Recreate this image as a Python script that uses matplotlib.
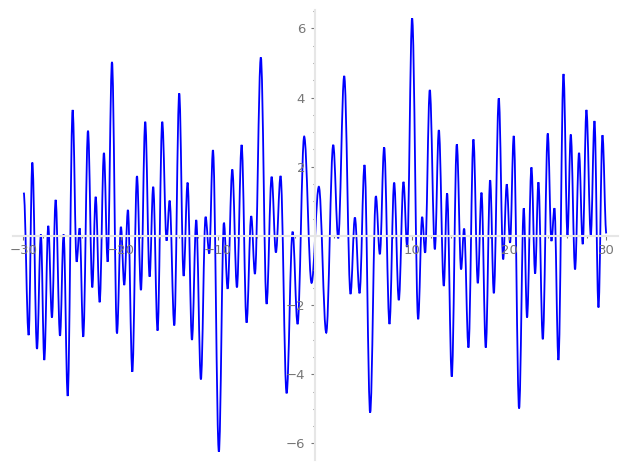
import matplotlib
matplotlib.use("Agg")
import matplotlib.pyplot as plt
from matplotlib.path import Path
from matplotlib.patches import PathPatch
from matplotlib.ticker import MultipleLocator, FixedLocator

# turning points of the curve (x, y), left to right
ext_x = [-29.97, -29.46, -29.08, -28.60, -28.20, -27.85, -27.44, -27.06, -26.68, -26.23,
         -25.86, -25.44, -24.93, -24.52, -24.21, -23.84, -23.35, -22.91, -22.56, -22.15,
         -21.71, -21.33, -20.88, -20.37, -19.96, -19.62, -19.24, -18.79, -18.31, -17.90,
         -17.46, -17.01, -16.64, -16.19, -15.71, -15.26, -14.95, -14.47, -13.96, -13.51,
         -13.10, -12.65, -12.21, -11.73, -11.25, -10.87, -10.49, -9.88, -9.36, -8.98,
         -8.50, -8.02, -7.54, -7.03, -6.55, -6.17, -5.56, -4.97, -4.45, -4.01,
         -3.53, -2.91, -2.29, -1.78, -1.10, -0.34, 0.41, 1.17, 1.89, 2.40,
         3.02, 3.67, 4.12, 4.60, 5.11, 5.69, 6.28, 6.69, 7.13, 7.68,
         8.16, 8.64, 9.12, 9.50, 10.01, 10.63, 11.04, 11.35, 11.83, 12.35,
         12.76, 13.27, 13.61, 14.09, 14.61, 15.05, 15.36, 15.81, 16.32, 16.77,
         17.15, 17.59, 18.04, 18.42, 18.93, 19.38, 19.75, 20.09, 20.47, 21.02,
         21.50, 21.84, 22.29, 22.67, 23.01, 23.46, 23.97, 24.35, 24.66, 25.07,
         25.59, 26.00, 26.34, 26.78, 27.19, 27.57, 27.95, 28.40, 28.78, 29.19,
         29.60, 30.00]
ext_y = [1.25, -2.87, 2.12, -3.27, 0.04, -3.59, 0.29, -2.36, 1.04, -2.89,
         0.04, -4.63, 3.64, -0.75, 0.22, -2.92, 3.04, -1.49, 1.13, -1.92,
         2.40, -0.75, 5.03, -2.82, 0.26, -1.42, 0.75, -3.93, 1.73, -1.57,
         3.30, -1.18, 1.42, -2.74, 3.30, -0.14, 1.02, -2.59, 4.12, -1.16,
         1.54, -3.01, 0.46, -4.15, 0.55, -0.51, 2.48, -6.24, 0.38, -1.53,
         1.92, -1.49, 2.63, -2.51, 0.57, -1.10, 5.16, -1.97, 1.71, -0.48,
         1.73, -4.55, 0.12, -2.55, 2.87, -1.36, 1.42, -2.80, 2.63, -0.07,
         4.62, -1.68, 0.53, -1.66, 2.05, -5.11, 1.15, -0.53, 2.56, -2.55,
         1.54, -1.86, 1.56, -0.32, 6.29, -2.41, 0.55, -0.49, 4.22, -0.39,
         3.06, -1.45, 1.23, -4.07, 2.65, -0.97, 0.21, -3.23, 2.79, -1.37,
         1.25, -3.23, 1.61, -1.66, 3.98, -0.68, 1.49, -0.20, 2.89, -4.99,
         0.80, -2.36, 1.98, -1.09, 1.55, -2.99, 2.96, -0.15, 0.80, -3.59,
         4.68, 0.02, 2.93, -0.97, 2.40, -0.24, 3.64, 0.02, 3.32, -2.07,
         2.91, 0.07]

x_major = [-30, -20, -10, 10, 20, 30]
y_major = [-6, -4, -2, 2, 4, 6]

fig = plt.figure(figsize=(6.27, 4.70), dpi=100)
ax = fig.add_axes([12.7 / 627, 10 / 470, (618 - 12.7) / 627, 450 / 470])

# smooth curve: cubic bezier between turning points, flat tangents at each one
k = 0.364
verts = [(ext_x[0], ext_y[0])]
codes = [Path.MOVETO]
for i in range(len(ext_x) - 1):
    x0, y0, x1, y1 = ext_x[i], ext_y[i], ext_x[i + 1], ext_y[i + 1]
    d = x1 - x0
    verts += [(x0 + k * d, y0), (x1 - k * d, y1), (x1, y1)]
    codes += [Path.CURVE4] * 3
ax.add_patch(PathPatch(Path(verts, codes), fill=False, edgecolor='#0000ff', lw=1.3))

ax.set_xlim(-31.1, 31.2)
ax.set_ylim(-6.48, 6.53)

for side in ['top', 'right']:
    ax.spines[side].set_visible(False)
for side in ['left', 'bottom']:
    ax.spines[side].set_position('zero')
    ax.spines[side].set_color('#e6e6e6')
    ax.spines[side].set_linewidth(1.5)

ax.xaxis.set_major_locator(FixedLocator(x_major))
ax.xaxis.set_minor_locator(MultipleLocator(2))
ax.yaxis.set_major_locator(FixedLocator(y_major))
ax.yaxis.set_minor_locator(MultipleLocator(0.5))
ax.tick_params(which='major', length=3, width=0.8, color='#777777',
               labelcolor='#777777', labelsize=9.5)
ax.tick_params(which='minor', length=1.5, width=0.8, color='#777777')
ax.tick_params(axis='x', which='major', pad=3)
ax.tick_params(axis='y', which='major', pad=4)

fig.savefig('out.png', dpi=100)
